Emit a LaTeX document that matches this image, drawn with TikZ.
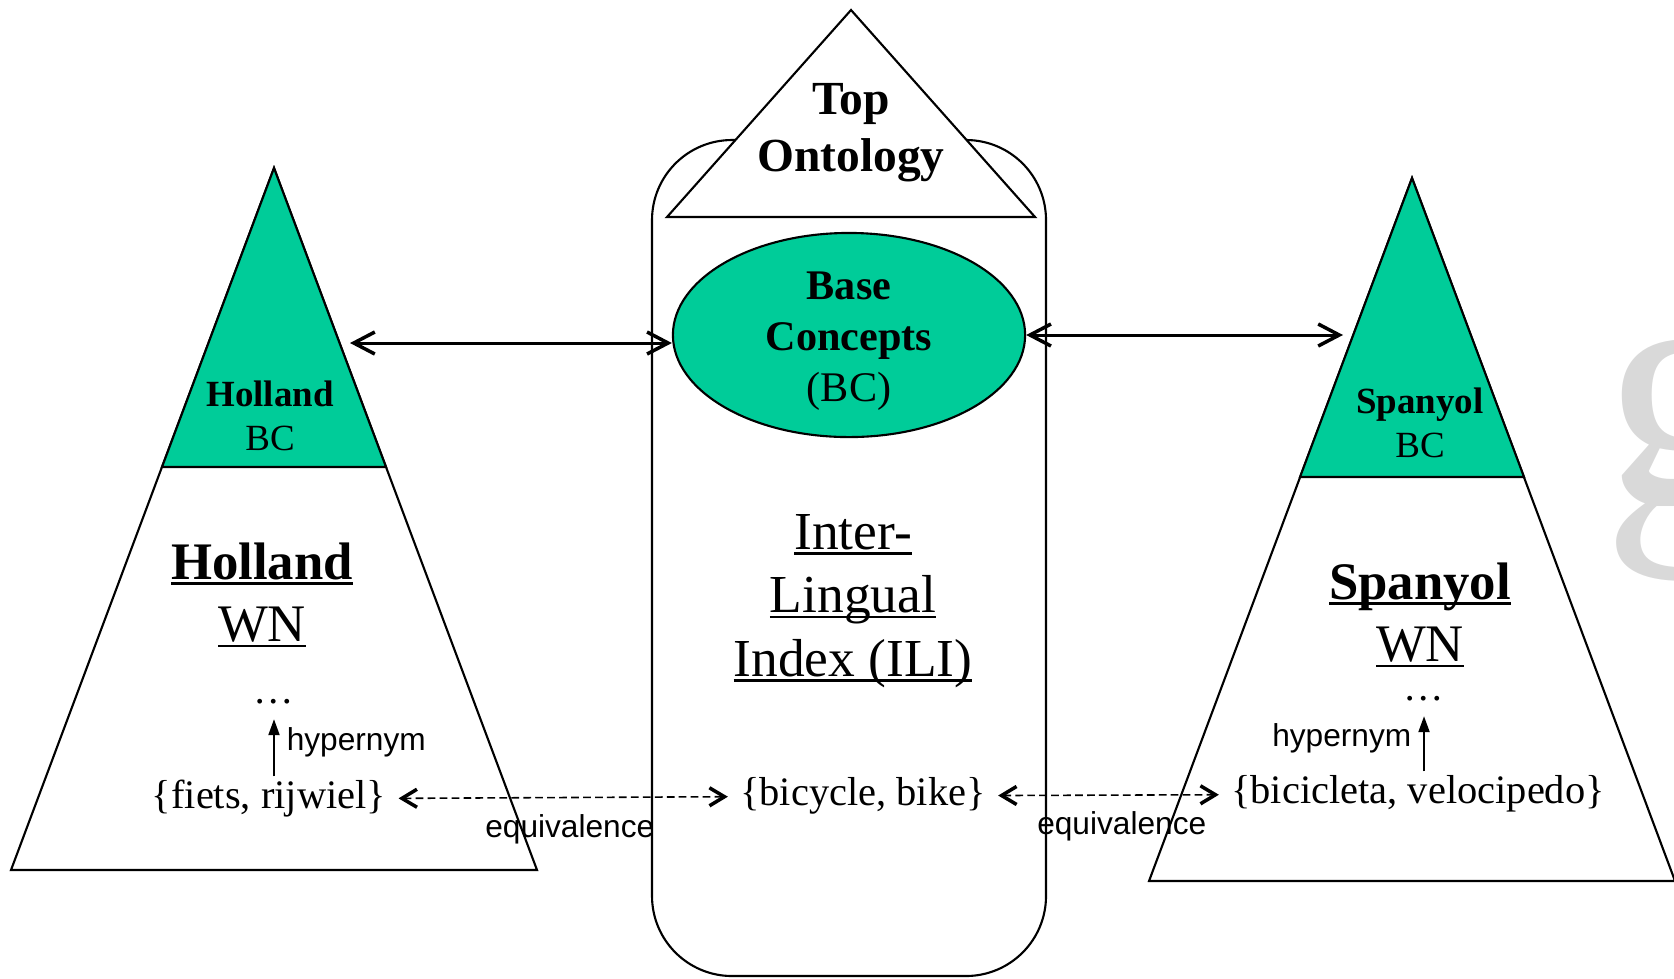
\documentclass[tikz,border=0pt]{standalone}
\usepackage{fontspec}
\setmainfont{Liberation Serif}
\setsansfont{Liberation Sans}
\usetikzlibrary{arrows.meta,shapes.geometric}
\definecolor{bcgreen}{RGB}{0,204,153}
\definecolor{logogray}{RGB}{217,217,217}
\newcommand{\ulword}[1]{\setbox0=\hbox{#1}\rlap{\rule[-0.1em]{\wd0}{0.05em}}\box0}

\begin{document}
\begin{tikzpicture}[x=0.01cm,y=-0.01cm,
	outline/.style={line width=0.6pt},
	biarrow/.style={line width=0.85pt,{Straight Barb[length=2.1mm,width=2.2mm,line width=1pt]}-{Straight Barb[length=2.1mm,width=2.2mm,line width=1pt]}},
	eqarrow/.style={line width=0.45pt,dash pattern=on 2.2pt off 1.2pt,{Straight Barb[length=1.5mm,width=1.8mm,line width=1pt]}-{Straight Barb[length=1.5mm,width=1.8mm,line width=1pt]}},
	hyparrow/.style={line width=0.6pt,-{Triangle[length=1.6mm,width=1.1mm]}},
	synset/.style={font=\fontsize{11.5}{14}\selectfont,inner ysep=1pt},
	dotsnode/.style={font=\fontsize{11.5}{14}\selectfont,inner sep=1pt},
	relname/.style={font=\sffamily\fontsize{9}{11}\selectfont}]
	\useasboundingbox (0,0) rectangle (1674,978);

	% Draw the logo in the background
	\node[logogray, anchor=base west, inner sep=0pt, font=\fontsize{100}{100}\selectfont] (logo) at (1601,505) {g};

	% Draw the ILI box and the top ontology
	\draw[outline, rounded corners=0.8cm] (652,140) rectangle (1046,976);
	\filldraw[outline, fill=white] (851,10) -- (1035,217) -- (667,217) -- cycle;
	\node[font=\bfseries\fontsize{13.5}{16.2}\selectfont, align=center] (top) at (851,133) {Top\\Ontology};

	% Draw the base concepts
	\node[ellipse, draw, outline, fill=bcgreen, minimum width=3.52cm, minimum height=2.04cm] (bc) at (849,335) {};
	\node[font=\fontsize{12}{14.5}\selectfont, align=center] (bctext) at (849,341) {\textbf{Base}\\\textbf{Concepts}\\(BC)};
	\node[font=\fontsize{15.2}{18.1}\selectfont, align=center] (ili) at (853,601) {\ulword{Inter-}\\\ulword{Lingual}\\\ulword{Index (ILI)}};

	% Draw the Holland wordnet
	\filldraw[outline, fill=white] (274,168) -- (537,870) -- (11,870) -- cycle;
	\filldraw[outline, fill=bcgreen] (274,168) -- (386,467) -- (162,467) -- cycle;
	\node[font=\fontsize{10.5}{12.5}\selectfont, align=center] (hlbc) at (270,416) {\textbf{Holland}\\BC};
	\node[font=\fontsize{15}{17.8}\selectfont, align=center] (hlwn) at (262,595) {\ulword{\textbf{Holland}}\\\ulword{WN}};

	% Draw the Spanyol wordnet
	\filldraw[outline, fill=white] (1412,178) -- (1675,881) -- (1149,881) -- cycle;
	\filldraw[outline, fill=bcgreen] (1412,178) -- (1524,477) -- (1300,477) -- cycle;
	\node[font=\fontsize{10.5}{12.5}\selectfont, align=center] (spbc) at (1420,423) {\textbf{Spanyol}\\BC};
	\node[font=\fontsize{15}{17.8}\selectfont, align=center] (spwn) at (1420,615) {\ulword{\textbf{Spanyol}}\\\ulword{WN}};

	% Label the synsets
	\node[synset] (fiets) at (269,799) {\{fiets, rijwiel\}};
	\node[synset] (bicycle) at (863,796) {\{bicycle, bike\}};
	\node[synset] (bicicleta) at (1418,794) {\{bicicleta, velocipedo\}};
	\node[dotsnode] (ldots) at (274,702) {\dots};
	\node[dotsnode] (rdots) at (1424,699) {\dots};

	% Draw the links to the base concepts
	\coordinate (hlport) at (350,343);
	\coordinate (spport) at (1343,335);
	\draw[biarrow] (hlport) -- (bc.west |- hlport);
	\draw[biarrow] (bc.east) -- (spport);

	% Draw the equivalence and hypernym relations
	\draw[eqarrow] (fiets) -- node[relname, below=1.2pt, pos=0.52] (leq) {equivalence} (bicycle);
	\draw[eqarrow] (bicycle) -- node[relname, below=1.2pt, pos=0.56] (req) {equivalence} (bicicleta);
	\draw[hyparrow, shorten >=3pt] (fiets.north -| ldots) -- node[relname, right] (lhyp) {hypernym} (ldots.south);
	\draw[hyparrow, shorten >=3pt] (bicicleta.north -| rdots) -- node[relname, left] (rhyp) {hypernym} (rdots.south);
\end{tikzpicture}
\end{document}
